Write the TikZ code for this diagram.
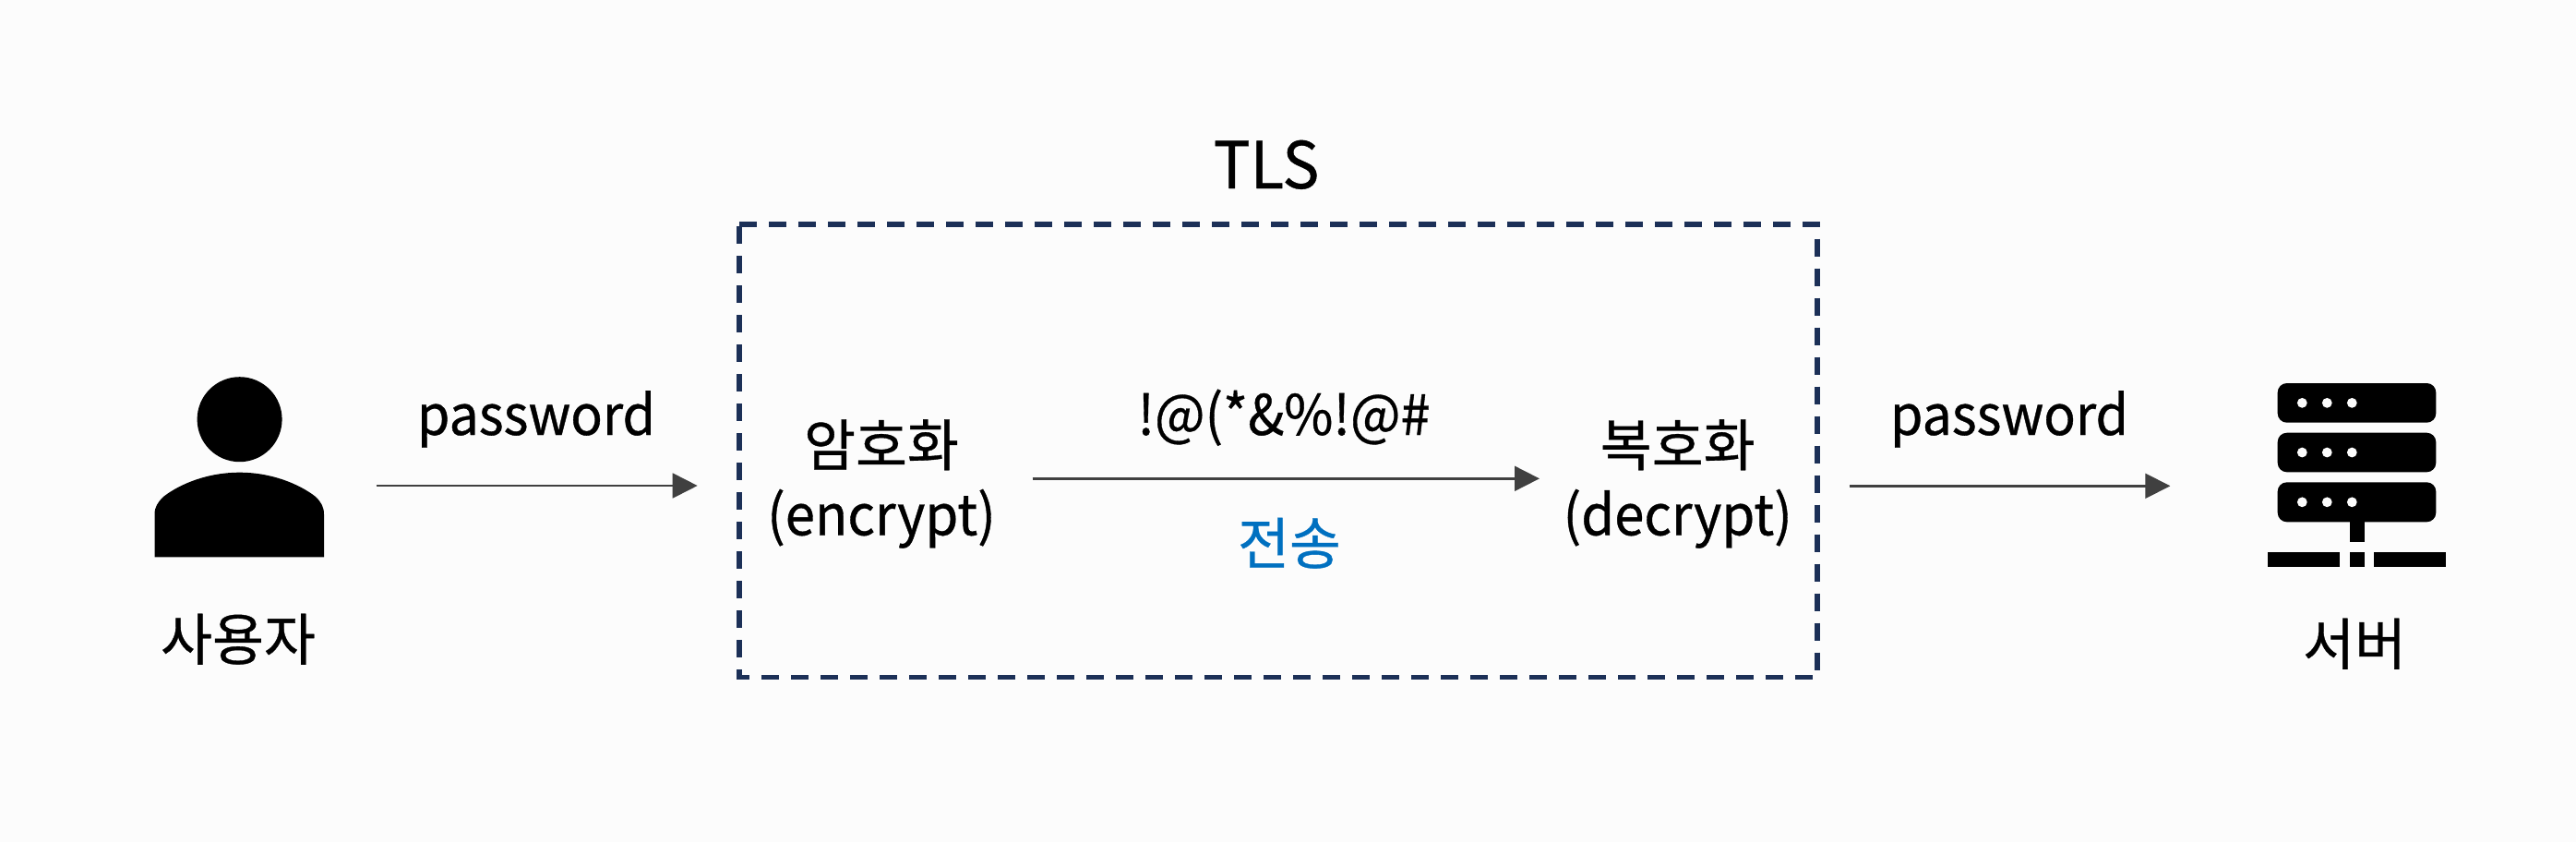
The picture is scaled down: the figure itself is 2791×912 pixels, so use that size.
\documentclass[tikz,border=0pt]{standalone}
\usepackage{fontspec}
\setmainfont[FakeBold=0.6]{Noto Sans CJK KR}
\newfontfamily\latinf[FakeStretch=0.955,FakeBold=0.6]{Noto Sans CJK KR}
\usetikzlibrary{arrows.meta}
\definecolor{pagebg}{HTML}{FCFCFC}
\definecolor{boxnavy}{HTML}{1C3057}
\definecolor{arrowgrey}{HTML}{404040}
\definecolor{sendblue}{HTML}{0070C0}
\newcommand{\pxfont}[2]{\fontsize{#1}{#2}\selectfont}
\tikzset{
  lbl/.style={inner sep=0pt,outer sep=0pt,anchor=base,text=black,font=\pxfont{30.4}{37.5}},
  flow/.style={draw=arrowgrey,line width=1.25pt,-{Triangle[length=13.5pt,width=13.4pt,fill=arrowgrey]}},
  tlsbox/.style={draw=boxnavy,line width=2.8pt,dash pattern=on 9.5pt off 6.5pt,miter limit=10},
  icon/.style={fill=black,draw=none},
  hole/.style={fill=pagebg,draw=none}
}
\begin{document}
\begin{tikzpicture}[x=0.5pt,y=-0.5pt]
\useasboundingbox (0,0) rectangle (2791,912);
\fill[pagebg] (0,0) rectangle (2791,912);

% user icon
\fill[icon] (259.6,454.2) circle[radius=46];
\fill[icon] (167.5,603.3) -- (167.5,557) .. controls (167.5,549) and (171,544) .. (177,538)
  .. controls (195,524) and (225,511.7) .. (259.6,511.7)
  .. controls (294,511.7) and (324,524) .. (342,538)
  .. controls (348,544) and (351,549) .. (351,557) -- (351,603.3) -- cycle;

% server icon
\foreach \ytop/\ybot in {415/457.7,468.7/511.3,522.3/565.3}{
  \fill[icon,rounded corners=5pt] (2467.7,\ytop) rectangle (2639.3,\ybot);
  \foreach \dotx in {2494.3,2521.3,2548.3}
    \fill[hole] (\dotx,{(\ytop+\ybot)/2}) circle[radius=5.4];
}
\fill[icon] (2545.7,565) rectangle (2561.7,586.7);
\fill[icon] (2457,597.7) rectangle (2535,613.7);
\fill[icon] (2545.7,597.7) rectangle (2561.7,613.7);
\fill[icon] (2572.3,597.7) rectangle (2650.3,613.7);

% TLS box
\coordinate (boxTL) at (801,242.7);
\coordinate (boxTR) at (1969,242.7);
\coordinate (boxBR) at (1969,733.3);
\coordinate (boxBL) at (801,733.3);
\draw[tlsbox] (boxTL) -- (boxTR) -- (boxBR) -- (boxBL) -- cycle;

% labels
\node[lbl,font=\latinf\pxfont{35}{42}] (tls) at (1372,204) {TLS};
\node[lbl] (user) at (258,715) {사용자};
\node[lbl] (server) at (2551,720) {서버};
\node[lbl,font=\latinf\pxfont{30}{37.5}] (pw1) at (581,471) {password};
\node[lbl,font=\latinf\pxfont{30}{37.5}] (pw2) at (2177,471) {password};
\node[lbl,font=\latinf\pxfont{30.2}{37.5}] (cipher) at (1391,471) {!@(*\&\%!@\#};
\node[lbl,text=sendblue] (send) at (1397,611) {전송};
\node[lbl,anchor=center,align=center] (enc) at (955,524) {암호화\\{\latinf (encrypt)}};
\node[lbl,anchor=center,align=center] (dec) at (1817.7,524) {복호화\\{\latinf (decrypt)}};

% connector ends
\coordinate (a1s) at (407.5,526);
\coordinate (a1e) at (755.7,526);
\coordinate (a2s) at (1118.6,518.3);
\coordinate (a2e) at (1668,518.3);
\coordinate (a3s) at (2003.9,526.3);
\coordinate (a3e) at (2351.4,526.3);
\draw[flow] (a1s) -- (a1e);
\draw[flow] (a2s) -- (a2e);
\draw[flow] (a3s) -- (a3e);
\end{tikzpicture}
\end{document}
